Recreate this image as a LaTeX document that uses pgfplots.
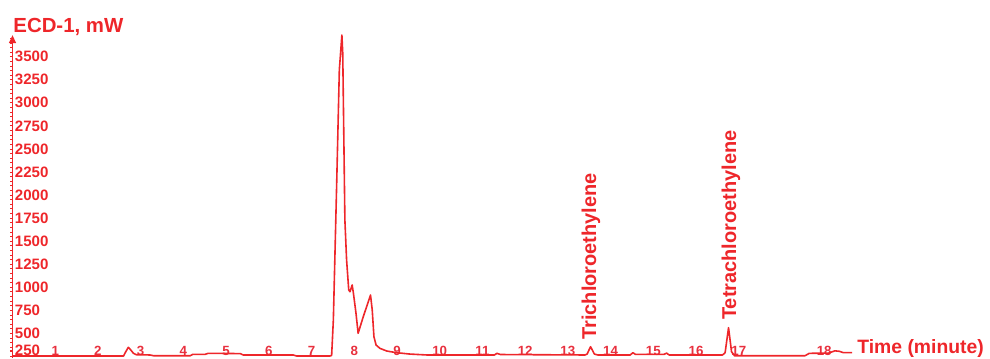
\documentclass[border=0pt]{standalone}
\usepackage{pgfplots}
\pgfplotsset{compat=1.18}
\usepackage{fontspec}
\setmainfont{Liberation Sans}
\usetikzlibrary{arrows.meta}
\definecolor{ecd}{RGB}{238,38,42}
\definecolor{tick}{RGB}{232,48,62}
\begin{document}
\begin{tikzpicture}
\begin{axis}[
  scale only axis, width=733.1pt, height=242.25pt,
  xmin=0, xmax=22.88, ymin=232.1, ymax=3735,
  clip=false,
  axis x line*=bottom,
  axis y line=left,
  x axis line style={draw=none},
  y axis line style={draw=ecd, line width=1.4pt, -{Triangle[length=6pt,width=5pt]}},
  xtick={1,2,3,4,5,6,7,8,9,10,11,12,13,14,15,16,17,19},
  xticklabels={1,2,3,4,5,6,7,8,9,10,11,12,13,14,15,16,17,18},
  xtick style={draw=none},
  xticklabel style={anchor=base, inner sep=0pt, yshift=4pt, text=tick,
    font=\fontsize{10}{12}\selectfont\bfseries},
  ytick={318,500,750,1000,1250,1500,1750,2000,2250,2500,2750,3000,3250,3500},
  yticklabels={250,500,750,1000,1250,1500,1750,2000,2250,2500,2750,3000,3250,3500},
  minor ytick={250,300,...,3700},
  tick align=outside,
  ytick style={draw=ecd, line width=0.5pt},
  major tick length=2pt, minor tick length=1.5pt,
  yticklabel style={anchor=west, inner sep=0pt, xshift=3.6pt, text=ecd,
    font=\fontsize{11.3}{13}\selectfont\bfseries},
  /pgf/number format/assume math mode=true,
]
\addplot[ecd, line width=1.2pt, line join=round] coordinates {
(0,254) (2.6,254) (2.63,283) (2.71,348) (2.77,319) (2.83,283) (2.9,268)
(3.22,265) (3.3,257) (4.16,257) (4.22,272) (4.51,272) (4.58,283) (5.33,280)
(5.4,265) (6.57,265) (6.65,254) (7.43,254) (7.47,260) (7.51,644) (7.59,2163)
(7.65,3356) (7.71,3735) (7.73,3537) (7.76,2452) (7.78,1729) (7.82,1295)
(7.87,970) (7.90,951) (7.95,1024) (7.98,934) (8.04,717) (8.09,500) (8.21,680)
(8.38,915) (8.42,753) (8.46,463) (8.51,373) (8.60,337) (8.76,308) (8.99,290)
(9.30,275) (9.70,265) (11.28,265) (11.34,283) (11.42,270) (13.4,265)
(13.45,275) (13.53,355) (13.62,275) (13.7,265) (14.46,265) (14.52,290)
(14.58,272) (15.25,272) (15.31,285) (15.37,265) (16.62,265) (16.68,290)
(16.76,561) (16.83,300) (16.9,257) (18.55,257) (18.65,283) (19.1,285)
(19.25,310) (19.35,305) (19.45,290) (19.65,290)
};
\coordinate (bl) at (rel axis cs:0,0);
\coordinate (tr) at (rel axis cs:1,1);
\node[anchor=base west, inner sep=0pt, text=ecd, font=\fontsize{15.3}{18}\selectfont\bfseries]
  at ([xshift=0.5pt, yshift=2pt]rel axis cs:0,1) {ECD-1, mW};
\node[rotate=90, anchor=base west, inner sep=0pt, text=ecd, font=\fontsize{15}{18}\selectfont\bfseries]
  at (axis cs:13.66,427) {Trichloroethylene};
\node[rotate=90, anchor=base west, inner sep=0pt, text=ecd, font=\fontsize{15}{18}\selectfont\bfseries]
  at (axis cs:16.94,644) {Tetrachloroethylene};
\node[anchor=base west, inner sep=0pt, text=ecd, font=\fontsize{14.5}{17}\selectfont\bfseries]
  at (axis cs:19.77,283) {Time (minute)};
\end{axis}
\pgfresetboundingbox
\path[use as bounding box] ([xshift=-9.375pt]bl) rectangle ([yshift=26.25pt]tr);
\end{tikzpicture}
\end{document}
